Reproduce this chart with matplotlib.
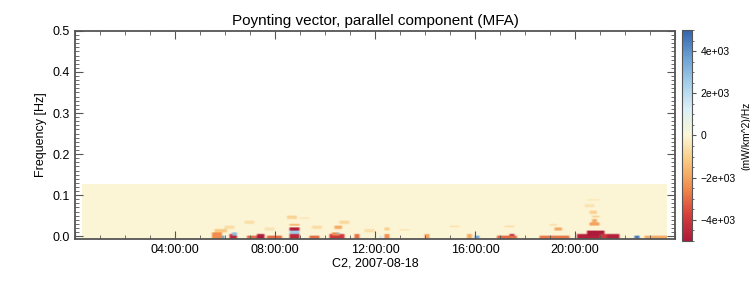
import numpy as np
import matplotlib
matplotlib.use("Agg")
import matplotlib.pyplot as plt
from matplotlib.colors import LinearSegmentedColormap
from matplotlib.ticker import MultipleLocator, FuncFormatter

plt.rcParams["font.family"] = ["Liberation Sans", "DejaVu Sans"]

# spectrogram grid (hours, Hz)
t_start, t_stop, dt = 0.28, 23.72, 0.1
f_bottom, f_top, df = -0.007, 0.125, 0.004

# hot spots: t0 [h], t1 [h], f0 [Hz], f1 [Hz], value
spot_t0 = [5.5, 5.9, 6.2, 6.3, 6.9, 7.3, 7.7, 8.6, 8.6, 8.6, 8.6, 9.4, 10.2, 10.3, 10.5, 10.4, 11.2, 12.2,
           12.4, 12.4, 14.0, 15.7, 16.0, 16.9, 17.4, 18.6, 19.2, 20.1, 20.5, 20.6, 20.7, 20.6, 21.0, 22.4, 22.8,
           6.0, 6.8, 8.5, 10.6, 19.0, 20.7, 5.6, 9.5, 7.6, 11.6, 13.0, 17.2, 20.4, 20.5, 15.0, 9.0]
spot_t1 = [5.9, 6.0, 6.5, 6.5, 7.3, 7.6, 8.3, 9.0, 9.0, 9.0, 9.0, 9.8, 10.8, 10.6, 10.6, 10.7, 11.4, 12.3,
           12.6, 12.6, 14.2, 15.9, 16.2, 17.7, 17.6, 19.8, 19.5, 21.8, 21.2, 21.0, 20.9, 20.9, 21.3, 22.6, 23.7,
           6.4, 7.2, 8.9, 11.0, 19.3, 21.0, 6.1, 9.9, 8.0, 12.0, 13.4, 17.6, 20.8, 21.0, 15.4, 9.4]
spot_f0 = [-0.007, -0.007, -0.007, 0.003, -0.007, -0.007, -0.007, 0.013, 0.006, -0.007, 0.024, -0.007, -0.007, 0.003, 0.006, 0.016, -0.007, -0.007,
           -0.007, 0.014, -0.007, -0.007, -0.007, -0.007, 0.0, -0.007, 0.014, -0.007, 0.002, 0.026, 0.034, 0.054, -0.007, -0.007, -0.007,
           0.018, 0.03, 0.04, 0.03, 0.024, 0.044, 0.01, 0.018, 0.015, 0.01, 0.012, 0.02, 0.07, 0.085, 0.02, 0.04]
spot_f1 = [0.009, 0.001, 0.003, 0.008, 0.002, 0.006, 0.002, 0.022, 0.012, 0.004, 0.031, 0.002, 0.004, 0.008, 0.011, 0.024, 0.003, 0.002,
           0.004, 0.022, 0.003, 0.003, 0.001, 0.002, 0.006, 0.002, 0.02, 0.005, 0.012, 0.033, 0.04, 0.062, 0.007, 0.001, 0.001,
           0.025, 0.036, 0.048, 0.037, 0.03, 0.05, 0.016, 0.024, 0.02, 0.016, 0.018, 0.026, 0.076, 0.09, 0.026, 0.046]
spot_val = [-2500, 3500, -4500, 3000, -3000, -5000, -3000, -4800, 2500, -4500, -1800, -3000, -4000, -2500, 3000, -1800, -3000, 1500,
            -2500, -1000, -2000, -1800, 3500, -3000, -4800, -2800, -1800, -4800, -5000, -2000, -1800, -1000, -4000, 4500, -1800,
            -700, -600, -900, -800, -700, -900, -1200, -700, -500, -600, -500, -600, -500, -400, -500, -500]

# colours
cmap = LinearSegmentedColormap.from_list(
    "ref", ["#ae1a3a", "#d63f3c", "#f08c4c", "#f9c77e", "#fcf6d6",
            "#dcf0f6", "#a4ceea", "#6a9fd2", "#3562ad"])

t_edges = np.arange(t_start, t_stop + dt / 2, dt)
f_edges = np.arange(f_bottom, f_top + df / 2, df)
tc = 0.5 * (t_edges[:-1] + t_edges[1:])
fc = 0.5 * (f_edges[:-1] + f_edges[1:])
S = np.zeros((len(fc), len(tc)))
for t0, t1, f0, f1, v in zip(spot_t0, spot_t1, spot_f0, spot_f1, spot_val):
    mt = (tc >= t0) & (tc <= t1)
    mf = (fc >= f0) & (fc <= f1)
    S[np.ix_(mf, mt)] = v

fig = plt.figure(figsize=(7.5, 3), dpi=100)
ax = fig.add_axes([0.1, 0.203, 0.8, 0.694])
cax = fig.add_axes([0.909, 0.197, 0.013, 0.703])

im = ax.imshow(S, origin="lower", aspect="auto", cmap=cmap, vmin=-5000, vmax=5000,
               extent=[t_edges[0], t_edges[-1], f_edges[0], f_edges[-1]],
               interpolation="bilinear")
ax.set_xlim(0, 24)
ax.set_ylim(-0.007, 0.5)
ax.xaxis.set_major_locator(MultipleLocator(4))
ax.xaxis.set_minor_locator(MultipleLocator(1))
ax.xaxis.set_major_formatter(FuncFormatter(lambda x, p: "%02d:00:00" % x if 0 < x < 24 else ""))
ax.yaxis.set_major_locator(MultipleLocator(0.1))
ax.yaxis.set_minor_locator(MultipleLocator(0.01))
ax.yaxis.set_major_formatter(FuncFormatter(lambda y, p: "%.1f" % y))
ax.tick_params(which="both", direction="in", top=True, right=True, labelsize=9, color="#555555")
ax.tick_params(which="major", length=6)
ax.tick_params(which="minor", length=3)
for s in ax.spines.values():
    s.set_color("#555555")
    s.set_linewidth(1.3)
ax.set_xlabel("C2, 2007-08-18", fontsize=9, labelpad=1)
ax.set_ylabel("Frequency [Hz]", fontsize=9)
ax.set_title("Poynting vector, parallel component (MFA)", fontsize=11, pad=4)

cb = fig.colorbar(im, cax=cax, ticks=[-4000, -2000, 0, 2000, 4000])
cb.ax.set_yticklabels(["\u22124e+03", "\u22122e+03", "0", "2e+03", "4e+03"])
cb.ax.yaxis.set_minor_locator(MultipleLocator(500))
cb.ax.tick_params(which="both", labelsize=7.5, length=3, color="#555555")
cb.ax.tick_params(which="minor", length=1.5)
cb.outline.set_edgecolor("#555555")
cb.set_label("(mW/km^2)/Hz", fontsize=7.5, labelpad=4)

fig.savefig("out.png", dpi=100)
